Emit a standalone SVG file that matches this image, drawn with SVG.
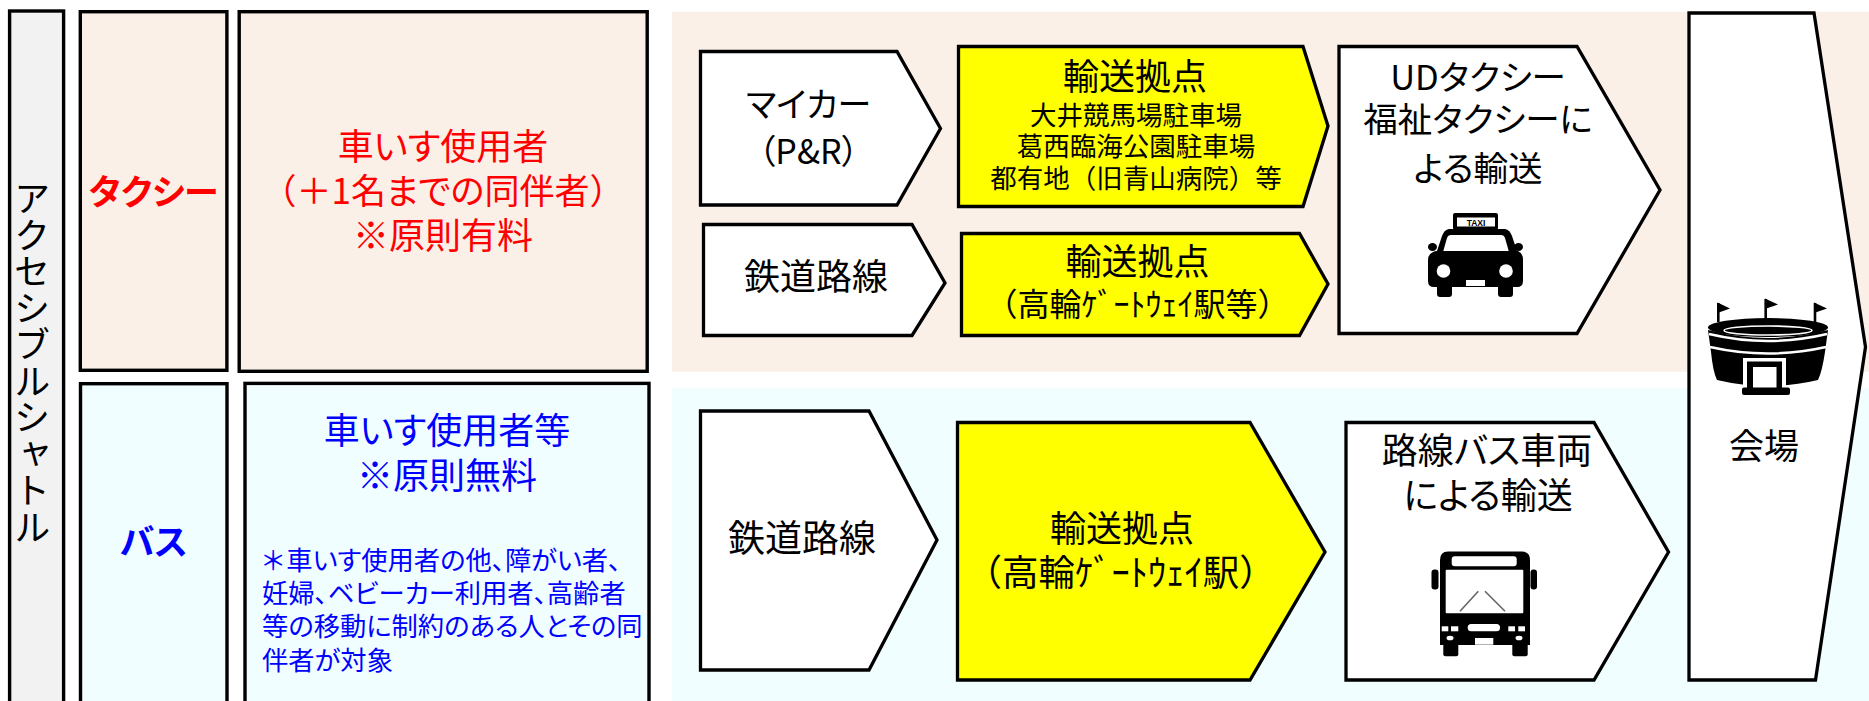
<svg xmlns="http://www.w3.org/2000/svg" width="1869" height="701" viewBox="0 0 1869 701">
<style>
text{font-family:"Noto Sans CJK JP","Noto Sans",sans-serif;fill:#000}
.p{font-feature-settings:"palt" 1}
.n{font-feature-settings:normal}
.c{text-anchor:middle}
.box{stroke:#000;stroke-width:3.4}
.chev{stroke:#000;stroke-width:3.3;stroke-linejoin:miter}
.peach{fill:#FBF0E8}
.aqua{fill:#F0FEFF}
.wh{fill:#FFFFFF}
.ye{fill:#FFFF00}
.red{fill:#FF0000}
.blue{fill:#0000FF}
.ic{fill:#000}
.icw{fill:#FFFFFF}
</style>
<rect width="1869" height="701" fill="#FFFFFF"/>
<g id="bands">
<rect class="peach" x="672" y="11.7" width="1197" height="360"/>
<rect class="aqua" x="672" y="388.3" width="1197" height="313"/>
</g>
<g id="accessible-shuttle">
<rect class="box" x="9.6" y="11" width="54" height="720" fill="#F2F2F2"/>
<text x="32" y="180" font-size="36.5" style="writing-mode:vertical-rl">アクセシブルシャトル</text>
</g>
<g id="taxi-label">
<rect class="box peach" x="80.3" y="11.7" width="146.6" height="358.6"/>
<text class="c p red" x="153.6" y="205" font-size="35" font-weight="bold">タクシー</text>
</g>
<g id="taxi-users">
<rect class="box peach" x="239.2" y="11.7" width="408" height="359.6"/>
<text class="c red" font-size="36"><tspan class="p" x="443" y="160">車いす使用者</tspan><tspan x="443" y="204" font-size="35">（＋1名<tspan class="p">までの</tspan>同伴者）</tspan><tspan x="443" y="249">※原則有料</tspan></text>
</g>
<g id="bus-label">
<rect class="box aqua" x="80.5" y="383.7" width="146.5" height="400"/>
<text class="c p blue" x="153.6" y="555" font-size="35" font-weight="bold">バス</text>
</g>
<g id="bus-users">
<rect class="box aqua" x="245" y="383.4" width="404" height="400"/>
<text class="c blue" font-size="36"><tspan class="p" x="447" y="444">車いす使用者等</tspan><tspan x="447" y="489">※原則無料</tspan></text>
<text class="p blue" font-size="26.3"><tspan x="260" y="569.5"><tspan class="n">＊</tspan>車いす使用者の他、障がい者、</tspan><tspan x="262" y="603">妊婦、ベビーカー利用者、高齢者</tspan><tspan x="262" y="636">等の移動に制約のある人とその同</tspan><tspan x="262" y="669.5">伴者が対象</tspan></text>
</g>
<g id="mycar">
<polygon class="chev wh" points="700.5,51.5 897,51.5 940.5,128.5 897,205 700.5,205"/>
<text class="c p" font-size="34"><tspan x="808.5" y="117">マイカー</tspan><tspan x="808.5" y="164">（P&amp;R）</tspan></text>
</g>
<g id="rail-taxi">
<polygon class="chev wh" points="703.5,224.5 912,224.5 945,283 912,335.5 703.5,335.5"/>
<text class="c" x="816" y="290" font-size="36">鉄道路線</text>
</g>
<g id="hub-parking">
<polygon class="chev ye" points="958.5,46.5 1303,46.5 1328,126 1303,206.5 958.5,206.5"/>
<text class="c" font-size="26.5"><tspan x="1135" y="90" font-size="36">輸送拠点</tspan><tspan x="1136" y="125">大井競馬場駐車場</tspan><tspan x="1136" y="156">葛西臨海公園駐車場</tspan><tspan x="1136" y="188">都有地（旧青山病院）等</tspan></text>
</g>
<g id="hub-takanawa-taxi">
<polygon class="chev ye" points="961.5,233.5 1299.5,233.5 1328,284 1299.5,335.5 961.5,335.5"/>
<text class="c" font-size="36"><tspan x="1137.6" y="275">輸送拠点</tspan><tspan x="1137.5" y="316" font-size="32">（高輪ｹﾞｰﾄｳｪｲ駅等）</tspan></text>
</g>
<g id="ud-taxi">
<polygon class="chev wh" points="1339,46.5 1577,46.5 1660,190 1577,333.5 1339,333.5"/>
<text class="c p" font-size="34.5"><tspan x="1478" y="90">UDタクシー</tspan><tspan x="1478" y="132">福祉タクシーに</tspan><tspan x="1478" y="181">よる輸送</tspan></text>
<g id="taxi-icon">
<rect class="ic" x="1453" y="213" width="45" height="17" rx="2"/>
<rect class="icw" x="1457" y="217.5" width="38" height="9"/>
<text class="c" x="1476" y="225.8" font-size="8.5" font-weight="bold" style="font-family:'Liberation Sans',sans-serif">TAXI</text>
<path class="ic" d="M1449,229 L1505,229 Q1510,230 1512,236 L1518,254 L1436,254 L1442,236 Q1444,230 1449,229 Z"/>
<path class="icw" d="M1451,235 L1501,235 Q1504,235 1505,238 L1509,252 L1443,252 L1447,238 Q1448,235 1451,235 Z"/>
<path class="ic" d="M1436,251 L1518,251 Q1523,253 1523,260 L1523,281 Q1523,287 1517,287 L1434,287 Q1428,287 1428,281 L1428,260 Q1428,253 1436,251 Z"/>
<ellipse class="ic" cx="1432.5" cy="247" rx="4.5" ry="4"/>
<ellipse class="ic" cx="1518.5" cy="247" rx="4.5" ry="4"/>
<circle class="icw" cx="1443.5" cy="271" r="6.8"/>
<circle class="icw" cx="1506" cy="271" r="6.8"/>
<rect class="icw" x="1466" y="280" width="19" height="6"/>
<rect class="ic" x="1437" y="284" width="15" height="13" rx="3"/>
<rect class="ic" x="1498" y="284" width="15" height="13" rx="3"/>
</g>
</g>
<g id="rail-bus">
<polygon class="chev wh" points="700.5,411 869,411 937,540 869,670 700.5,670"/>
<text class="c" x="802" y="552" font-size="37">鉄道路線</text>
</g>
<g id="hub-takanawa-bus">
<polygon class="chev ye" points="957.5,422.5 1250,422.5 1325,552 1250,680 957.5,680"/>
<text class="c" font-size="36"><tspan x="1122" y="542">輸送拠点</tspan><tspan x="1120.7" y="586" font-size="36.5">（高輪ｹﾞｰﾄｳｪｲ駅）</tspan></text>
</g>
<g id="route-bus">
<polygon class="chev wh" points="1346,422.5 1594,422.5 1668.5,552 1594,680 1346,680"/>
<text class="c p" font-size="36"><tspan x="1487" y="464">路線バス車両</tspan><tspan x="1488" y="509">による輸送</tspan></text>
<g id="bus-icon">
<rect class="ic" x="1431.5" y="569.5" width="7" height="20" rx="3"/>
<rect class="ic" x="1530.5" y="569.5" width="6.5" height="20" rx="3"/>
<path class="ic" d="M1448,551.5 L1522,551.5 Q1530,551.5 1530,560 L1530,645 L1440,645 L1440,560 Q1440,551.5 1448,551.5 Z"/>
<rect class="icw" x="1451.7" y="556.3" width="65" height="10" rx="3"/>
<rect class="icw" x="1445.7" y="569.7" width="77.6" height="43.5" rx="1"/>
<path d="M1460,611.3 L1478.3,591.3 M1485,591.3 L1505,611.3" stroke="#666" stroke-width="1.6" fill="none"/>
<rect class="icw" x="1441.7" y="626.3" width="6.6" height="5"/>
<rect class="icw" x="1451" y="626.3" width="7.3" height="5"/>
<rect class="icw" x="1508.3" y="626.3" width="6.7" height="5"/>
<rect class="icw" x="1518.3" y="626.3" width="6.7" height="5"/>
<rect class="icw" x="1467.7" y="624" width="32.3" height="7.3" rx="3.5"/>
<ellipse class="icw" cx="1450" cy="638" rx="3.5" ry="2.3"/>
<ellipse class="icw" cx="1519" cy="638" rx="3.5" ry="2.3"/>
<rect class="icw" x="1475" y="638" width="18.3" height="6.7"/>
<rect class="ic" x="1443.3" y="643" width="15" height="13.3" rx="2"/>
<rect class="ic" x="1512.3" y="643" width="15.4" height="13.3" rx="2"/>
</g>
</g>
<g id="venue">
<polygon class="chev wh" points="1689,13 1814,13 1865.5,347 1815.5,680 1689,680"/>
<g id="stadium-icon">
<path d="M1718.3,322 L1718.3,303 M1765.7,319 L1765.7,299 M1815,322 L1815,303" stroke="#000" stroke-width="2.6" fill="none"/>
<polygon class="ic" points="1717.5,302.5 1730,308.5 1717.5,313"/>
<polygon class="ic" points="1765,298.5 1778,304.5 1765,309"/>
<polygon class="ic" points="1814,302.5 1827,308.5 1814,313"/>
<ellipse class="ic" cx="1768" cy="327.5" rx="60" ry="9.5"/>
<ellipse class="ic" cx="1768" cy="330.5" rx="44" ry="4.5" stroke="#FFFFFF" stroke-width="1.6"/>
<path class="ic" d="M1708,330 Q1768,346 1828,330 L1825,352 Q1822,372 1818,380 Q1768,392 1717,380 Q1713,372 1711,352 Z"/>
<path d="M1709,334 Q1768,348 1827,334" stroke="#FFFFFF" stroke-width="2.6" fill="none"/>
<path d="M1710,347 Q1768,360 1826,347" stroke="#FFFFFF" stroke-width="2.6" fill="none"/>
<rect class="icw" x="1743" y="358" width="43" height="30"/>
<rect class="ic" x="1747" y="361.5" width="35" height="28"/>
<rect class="icw" x="1753" y="367" width="23.5" height="22"/>
<rect class="ic" x="1742" y="387.5" width="48" height="7.5" rx="2"/>
</g>
<text class="c" x="1764" y="459" font-size="35">会場</text>
</g>
<g id="connectors"/>
</svg>
